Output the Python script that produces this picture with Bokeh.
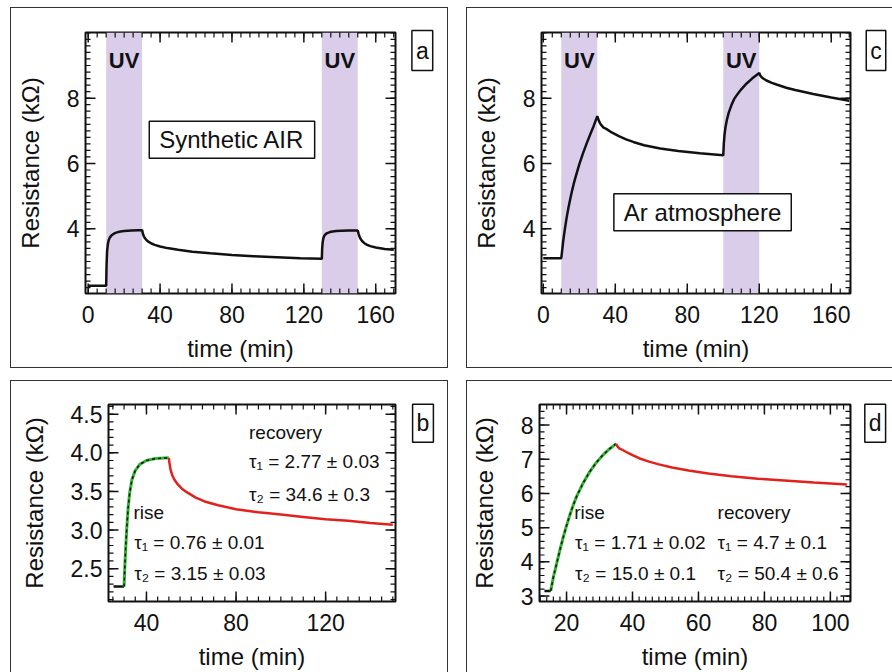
import math
from bokeh.plotting import figure
from bokeh.layouts import column, row
from bokeh.models import (FixedTicker, Label, BoxAnnotation, Range1d, NumeralTickFormatter)
from bokeh.embed import file_html
from bokeh.resources import INLINE

FONT = "Liberation Sans"
INK = "#111111"
UV_COLOR = "#d9cdea"
RED = "#e3211c"
GREEN = "#2fb52f"

# ---------------- Panel a : Synthetic AIR ----------------
a_time = [0, 10, 10.2, 10.5, 10.9, 11.4, 12, 13, 14.5, 16, 18, 20, 24, 28, 30,
          30.4, 30.9, 31.6, 32.5, 33.7, 35.2, 37, 40, 44, 50, 58, 68, 80, 92, 105, 118, 130,
          130.2, 130.5, 130.9, 131.4, 132, 133, 134.5, 136, 138, 141, 145, 150,
          150.4, 150.9, 151.6, 152.5, 153.7, 155.2, 157, 160, 165, 170]
a_res = [2.26, 2.26, 2.85, 3.3, 3.52, 3.65, 3.73, 3.8, 3.86, 3.89, 3.92, 3.93, 3.95, 3.96, 3.96,
         3.86, 3.78, 3.71, 3.65, 3.6, 3.55, 3.51, 3.46, 3.41, 3.36, 3.3, 3.25, 3.2, 3.16, 3.13, 3.1, 3.08,
         3.4, 3.6, 3.72, 3.79, 3.83, 3.87, 3.9, 3.92, 3.93, 3.94, 3.95, 3.95,
         3.86, 3.77, 3.69, 3.62, 3.56, 3.51, 3.47, 3.43, 3.38, 3.36]
a_uv_start = [10, 130]
a_uv_end = [30, 150]

# ---------------- Panel c : Ar atmosphere ----------------
c_time = [0, 10, 10.5, 11, 12, 13, 14, 15, 16, 17, 18, 20, 22, 24, 26, 28, 30,
          30.5, 31, 32, 33.5, 35, 38, 42, 46, 50, 56, 65, 75, 87, 100,
          100.3, 100.7, 101.2, 102, 103, 104.5, 106, 108, 110, 113, 116, 120,
          120.5, 121, 122, 124, 127, 130, 135, 140, 150, 160, 170]
c_res = [3.1, 3.1, 3.35, 3.6, 4.0, 4.35, 4.65, 4.92, 5.17, 5.4, 5.6, 5.97, 6.3, 6.6, 6.88, 7.15, 7.45,
         7.36, 7.29, 7.19, 7.1, 7.06, 6.95, 6.84, 6.74, 6.66, 6.56, 6.46, 6.38, 6.31, 6.25,
         6.6, 6.88, 7.1, 7.33, 7.55, 7.78, 7.97, 8.13, 8.27, 8.45, 8.6, 8.77,
         8.7, 8.66, 8.61, 8.54, 8.47, 8.41, 8.32, 8.25, 8.13, 8.02, 7.92]
c_uv_start = [10, 100]
c_uv_end = [30, 120]

# ---------------- Panel b : fit, synthetic air ----------------
b_base_time = [25.3, 30]
b_base_res = [2.27, 2.27]
b_rise_time = [30, 30.3, 30.7, 31.2, 31.8, 32.5, 33.5, 35, 37, 40, 44, 50]
b_rise_res = [2.27, 2.5, 2.75, 3.02, 3.28, 3.48, 3.65, 3.77, 3.85, 3.9, 3.925, 3.935]
b_rec_time = [50, 50.3, 50.8, 51.5, 52.5, 54, 56, 58, 62, 66, 72, 80, 90, 100, 110, 120, 130, 140, 150]
b_rec_res = [3.935, 3.86, 3.78, 3.71, 3.65, 3.59, 3.53, 3.49, 3.42, 3.37, 3.32, 3.27, 3.23,
             3.2, 3.17, 3.14, 3.12, 3.09, 3.07]

# ---------------- Panel d : fit, Ar atmosphere ----------------
d_base_time = [13.3, 15.2]
d_base_res = [3.15, 3.15]
d_rise_time = [15.2, 16, 17, 18, 19, 20, 21, 22, 23, 25, 27, 29, 31, 33, 35]
d_rise_res = [3.15, 3.55, 3.95, 4.35, 4.72, 5.06, 5.37, 5.65, 5.9, 6.3, 6.63, 6.9, 7.12, 7.3, 7.45]
d_rec_time = [35, 35.5, 36, 37, 38.5, 40, 42, 45, 48, 52, 57, 63, 70, 78, 86, 95, 105]
d_rec_res = [7.45, 7.37, 7.32, 7.27, 7.19, 7.12, 7.03, 6.93, 6.85, 6.76, 6.67, 6.58, 6.5,
             6.43, 6.38, 6.32, 6.26]

# tick values
xt_ac = [0, 40, 80, 120, 160]
yt_ac = [4, 6, 8]
xt_b = [40, 80, 120]
yt_b = [2.5, 3.0, 3.5, 4.0, 4.5]
xt_d = [20, 40, 60, 80, 100]
yt_d = [3, 4, 5, 6, 7, 8]


def frange(start, stop, step):
    out = []
    v = start
    while v <= stop + 1e-9:
        out.append(round(v, 4))
        v += step
    return out


xm_ac = frange(0, 170, 5)
ym_ac = frange(2.2, 10, 0.2)
xm_b = frange(25, 150, 5)
ym_b = frange(2.1, 4.6, 0.1)
xm_d = frange(12, 106, 2)
ym_d = frange(3, 8.6, 0.2)


def make_fig(w, h, xr, yr, borders, margin):
    l, r, t, b = borders
    p = figure(width=w, height=h, x_range=Range1d(*xr), y_range=Range1d(*yr),
               output_backend="svg", toolbar_location=None,
               min_border_left=l, min_border_right=r, min_border_top=t, min_border_bottom=b,
               margin=margin,
               styles={"outline": "1.5px solid #333333", "outline-offset": "0px"})
    p.xgrid.visible = False
    p.ygrid.visible = False
    p.background_fill_color = "white"
    p.border_fill_color = "white"
    p.outline_line_color = INK
    p.outline_line_width = 2
    p.outline_line_alpha = 1
    return p


def style_axis(ax, ticks, label, fmt=None, standoff=6, lab_standoff=20):
    ax.ticker = FixedTicker(ticks=ticks, minor_ticks=[])
    ax.axis_line_color = None
    ax.major_tick_line_color = None
    ax.minor_tick_line_color = None
    ax.major_tick_in = 0
    ax.major_tick_out = 0
    ax.minor_tick_in = 0
    ax.minor_tick_out = 0
    ax.major_label_text_font = FONT
    ax.major_label_text_font_size = "23px"
    ax.major_label_text_color = INK
    ax.major_label_standoff = standoff
    if fmt is not None:
        ax.formatter = fmt
    ax.axis_label = label
    ax.axis_label_text_font = FONT
    ax.axis_label_text_font_size = "24px"
    ax.axis_label_text_font_style = "normal"
    ax.axis_label_text_color = INK
    ax.axis_label_standoff = lab_standoff


def inner_ticks(p, xr, yr, xt, xm, yt, ym):
    # tick marks pointing into the frame on all four sides; the outer half is clipped by the frame
    for vals, size, lw in ((xm, 10, 1.2), (xt, 20, 1.5)):
        for edge in (yr[0], yr[1]):
            p.scatter(x=vals, y=[edge] * len(vals), marker="dash", angle=math.pi / 2,
                      size=size, line_color=INK, line_width=lw)
    for vals, size, lw in ((ym, 10, 1.2), (yt, 20, 1.5)):
        for edge in (xr[0], xr[1]):
            p.scatter(x=[edge] * len(vals), y=vals, marker="dash", angle=0,
                      size=size, line_color=INK, line_width=lw)


def letter_label(p, cx, cy, txt, vpad, w):
    # drop shadow, then the boxed panel letter (both in the right-hand side panel, canvas units)
    p.add_layout(BoxAnnotation(left=cx - w / 2 + 2, right=cx + w / 2 + 2,
                               top=cy - 16.5 + 2, bottom=cy + 16.5 + 2,
                               left_units="canvas", right_units="canvas",
                               top_units="canvas", bottom_units="canvas",
                               fill_color="#555555", fill_alpha=1, line_color=None), "right")
    p.add_layout(Label(x=cx, y=cy, x_units="canvas", y_units="canvas", text=txt,
                       text_align="center", text_baseline="middle",
                       text_font=FONT, text_font_size="23px", text_color=INK,
                       border_line_color=INK, border_line_width=1.5,
                       background_fill_color="white", padding=(4, vpad)), "right")


def note(p, x, y, txt, size="19px", bold=False, align="left"):
    p.add_layout(Label(x=x, y=y, text=txt, text_align=align, text_baseline="middle",
                       text_font=FONT, text_font_size=size, text_color=INK,
                       text_font_style="bold" if bold else "normal"))


def uv_bands(p, starts, ends):
    for s, e in zip(starts, ends):
        p.add_layout(BoxAnnotation(left=s, right=e, fill_color=UV_COLOR, fill_alpha=1,
                                   line_color=None, level="underlay"))
        note(p, (s + e) / 2, 9.15, "UV", size="22px", bold=True, align="center")


# ---- a ----
xr_a, yr_a = (-1.5, 171), (2.02, 10.01)
pa = make_fig(436, 359, xr_a, yr_a, (74, 52, 24, 74), (8, 0, 0, 11))
uv_bands(pa, a_uv_start, a_uv_end)
pa.line(a_time, a_res, line_color=INK, line_width=2.5)
inner_ticks(pa, xr_a, yr_a, xt_ac, xm_ac, yt_ac, ym_ac)
style_axis(pa.xaxis[0], xt_ac, "time (min)", standoff=12, lab_standoff=9)
style_axis(pa.yaxis[0], yt_ac, "Resistance (kΩ)", standoff=6, lab_standoff=20)
pa.add_layout(Label(x=80, y=6.73, text="Synthetic AIR", text_align="center", text_baseline="middle",
                    text_font=FONT, text_font_size="24px", text_color=INK,
                    border_line_color=INK, border_line_width=1.5,
                    background_fill_color="white", padding=(10, 5)))
letter_label(pa, 410.8, 42, "a", 7, 20.8)

# ---- c ----
xr_c, yr_c = (-1, 170.7), (2.02, 10.01)
pc = make_fig(425, 359, xr_c, yr_c, (74, 42, 24, 74), (8, 0, 0, 20))
uv_bands(pc, c_uv_start, c_uv_end)
pc.line(c_time, c_res, line_color=INK, line_width=2.5)
inner_ticks(pc, xr_c, yr_c, xt_ac, xm_ac, yt_ac, ym_ac)
style_axis(pc.xaxis[0], xt_ac, "time (min)", standoff=12, lab_standoff=9)
style_axis(pc.yaxis[0], yt_ac, "Resistance (kΩ)", standoff=6, lab_standoff=20)
pc.add_layout(Label(x=88.5, y=4.51, text="Ar atmosphere", text_align="center", text_baseline="middle",
                    text_font=FONT, text_font_size="24px", text_color=INK,
                    border_line_color=INK, border_line_width=1.5,
                    background_fill_color="white", padding=(10, 5)))
letter_label(pc, 408.5, 42, "c", 7, 19.5)

# ---- b ----
xr_b, yr_b = (23.05, 151.2), (2.075, 4.625)
pb = make_fig(436, 291, xr_b, yr_b, (97, 52, 23, 70), (14, 0, 0, 11))
pb.line(b_base_time, b_base_res, line_color=INK, line_width=2.5)
pb.line(b_rise_time, b_rise_res, line_color=GREEN, line_width=3)
pb.line(b_rise_time, b_rise_res, line_color=INK, line_width=1.5, line_dash="3 3")
pb.line(b_rec_time, b_rec_res, line_color=RED, line_width=2.5)
inner_ticks(pb, xr_b, yr_b, xt_b, xm_b, yt_b, ym_b)
style_axis(pb.xaxis[0], xt_b, "time (min)", standoff=12, lab_standoff=9)
style_axis(pb.yaxis[0], yt_b, "Resistance (kΩ)", fmt=NumeralTickFormatter(format="0.0"),
           standoff=6, lab_standoff=20)
note(pb, 85.8, 4.264, "recovery")
note(pb, 85.8, 3.885, "τ₁ = 2.77 ± 0.03")
note(pb, 85.8, 3.457, "τ₂ = 34.6 ± 0.3")
note(pb, 34.2, 3.229, "rise")
note(pb, 34.5, 2.842, "τ₁ = 0.76 ± 0.01")
note(pb, 34.5, 2.44, "τ₂ = 3.15 ± 0.03")
letter_label(pb, 411.5, 41.8, "b", 6, 20.8)

# ---- d ----
xr_d, yr_d = (11.8, 106.1), (2.84, 8.6)
pd = make_fig(425, 291, xr_d, yr_d, (69, 42, 23, 70), (14, 0, 0, 20))
pd.line(d_base_time, d_base_res, line_color=INK, line_width=2.5)
pd.line(d_rise_time, d_rise_res, line_color=GREEN, line_width=3)
pd.line(d_rise_time, d_rise_res, line_color=INK, line_width=1.5, line_dash="3 3")
pd.line(d_rec_time, d_rec_res, line_color=RED, line_width=2.5)
inner_ticks(pd, xr_d, yr_d, xt_d, xm_d, yt_d, ym_d)
style_axis(pd.xaxis[0], xt_d, "time (min)", standoff=12, lab_standoff=9)
style_axis(pd.yaxis[0], yt_d, "Resistance (kΩ)", standoff=6, lab_standoff=20)
note(pd, 22.3, 5.44, "rise")
note(pd, 22.6, 4.57, "τ₁ = 1.71 ± 0.02")
note(pd, 22.6, 3.66, "τ₂ = 15.0 ± 0.1")
note(pd, 65.8, 5.44, "recovery")
note(pd, 65.8, 4.57, "τ₁ = 4.7 ± 0.1")
note(pd, 65.8, 3.66, "τ₂ = 50.4 ± 0.6")
letter_label(pd, 407.7, 41.8, "d", 6, 20.8)

layout = column(row(pa, pc), row(pb, pd))
open("out.html", "w").write(file_html(layout, INLINE))
